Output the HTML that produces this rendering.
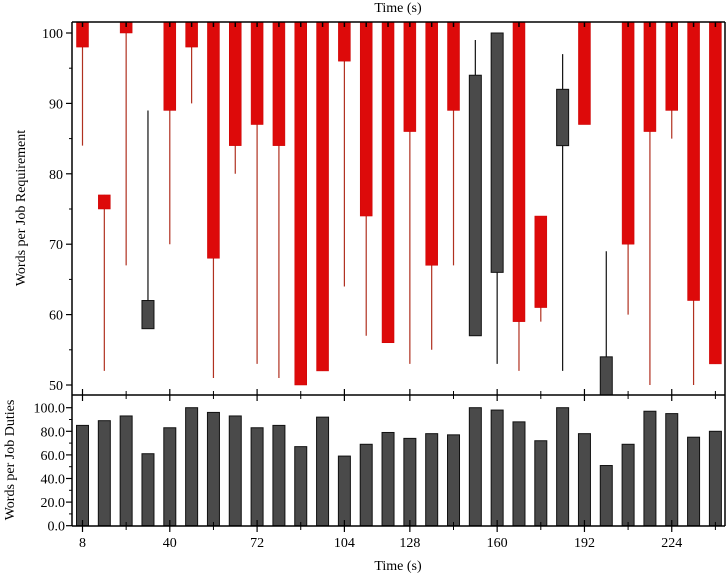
<!DOCTYPE html>
<html><head><meta charset="utf-8">
<style>
html,body{margin:0;padding:0;background:#fff;}
svg{display:block;font-family:"Liberation Serif",serif;}
</style></head>
<body>
<svg id="c" width="726" height="575" viewBox="0 0 726 575" xmlns="http://www.w3.org/2000/svg"></svg>
<script>
const times=[8,16,24,32,40,48,56,64,72,80,88,96,104,112,120,128,136,144,152,160,168,176,184,192,200,208,216,224,232,240];
const openVals=[106,77,106,58,106,106,106,106,106,106,106,106,106,106,106,106,106,106,57,66,106,74,84,106,46,106,106,106,106,106];
const closeVals=[98,75,100,62,89,98,68,84,87,84,50,52,96,74,56,86,67,89,94,100,59,61,92,87,54,70,86,89,62,53];
const highVals=[106,77,106,89,106,106,106,106,106,106,106,106,106,106,106,106,106,106,99,100,106,74,97,106,69,106,106,106,106,106];
const lowVals=[84,52,67,58,70,90,51,80,53,51,50,52,64,57,56,53,55,67,57,53,52,59,52,87,46,60,50,85,50,53];
const dutyVals=[85,89,93,61,83,100,96,93,83,85,67,92,59,69,79,74,78,77,100,98,88,72,100,78,51,69,97,95,75,80];
const xTicks=[8,40,72,104,128,160,192,224];
const xMinor=[24,56,88,144,176,208,240];
const topTicks=[50,60,70,80,90,100];
const botTicks=[0,20,40,60,80,100];

const NS="http://www.w3.org/2000/svg";
const svg=document.getElementById('c');
const L=72,R=725,T1=22,B1=395,B2=526;
const x=v=>82.5+(v-8)*2.728;
const y1=v=>33+(100-v)*7.04;
const y2=v=>525.7-v*1.18;
function el(tag,attrs,parent){const e=document.createElementNS(NS,tag);for(const k in attrs)e.setAttribute(k,attrs[k]);(parent||svg).appendChild(e);return e;}

const defs=el('defs',{});
const cp=el('clipPath',{id:'cp1'},defs);
el('rect',{x:L,y:T1,width:R-L,height:B1-T1},cp);
const gTop=el('g',{'clip-path':'url(#cp1)'});



times.forEach((t,i)=>{
  const o=openVals[i],c=closeVals[i],h=highVals[i],l=lowVals[i];
  const up=c>o;
  const col=up?'#4a4a4a':'#dd0a0a';
  const wc=up?'#111':'#b03020';
  const cx=x(t);
  const w=el('line',{x1:cx,x2:cx,y1:y1(h),y2:y1(l),stroke:wc,'stroke-width':1.2},gTop);
  
  
  const top=Math.max(o,c),bot=Math.min(o,c);
  const b=el('rect',{x:cx-6,y:y1(top),width:12,height:y1(bot)-y1(top),fill:col,stroke:up?'#111':'#c00',"stroke-width":up?1:0.5},gTop);
  
  
  if(!up&&o>101.5){
    const k=el('line',{x1:cx,x2:cx,y1:T1,y2:T1+5,stroke:'#000','stroke-width':1.5},gTop);
    
    
  }
});

dutyVals.forEach((v,i)=>{
  const cx=x(times[i]);
  const b=el('rect',{x:cx-6,y:y2(v),width:12,height:y2(0)-y2(v),fill:'#4a4a4a',stroke:'#111','stroke-width':1});
  
  
});

el('line',{x1:L,x2:R,y1:T1,y2:T1,stroke:'#000','stroke-width':1.5});
el('line',{x1:L,x2:L,y1:T1,y2:B2,stroke:'#000','stroke-width':1.5});
el('line',{x1:R,x2:R,y1:T1,y2:B2,stroke:'#000','stroke-width':1.5});
el('line',{x1:L,x2:R,y1:B1,y2:B1,stroke:'#000','stroke-width':1.5});
el('line',{x1:L,x2:R,y1:B2,y2:B2,stroke:'#000','stroke-width':1.5});

function txt(s,a,name){const e=el('text',a);e.textContent=s;return e;}

topTicks.forEach(v=>{
  el('line',{x1:L-6,x2:L,y1:y1(v),y2:y1(v),stroke:'#000','stroke-width':1.2});
  el('line',{x1:L-3,x2:L,y1:y1(v+5),y2:y1(v+5),stroke:'#000','stroke-width':1});
  txt(String(v),{x:L-9,y:y1(v)+5,'text-anchor':'end','font-size':14},'top-y-tick-label');
});
botTicks.forEach(v=>{
  el('line',{x1:L-6,x2:L,y1:y2(v),y2:y2(v),stroke:'#000','stroke-width':1.2});
  if(v<100)el('line',{x1:L-3,x2:L,y1:y2(v+10),y2:y2(v+10),stroke:'#000','stroke-width':1});
  txt(v.toFixed(1),{x:L-7,y:y2(v)+5,'text-anchor':'end','font-size':14},'bottom-y-tick-label');
});
xTicks.forEach(v=>{
  [B1,B2].forEach(b=>el('line',{x1:x(v),x2:x(v),y1:b-6,y2:b+6,stroke:'#000','stroke-width':1.2}));
  txt(String(v),{x:x(v),y:547,'text-anchor':'middle','font-size':14},'x-tick-label');
});
xMinor.forEach(v=>{
  [B1,B2].forEach(b=>el('line',{x1:x(v),x2:x(v),y1:b-4,y2:b+4,stroke:'#000','stroke-width':1}));
});

txt('Time (s)',{x:398,y:570,'text-anchor':'middle','font-size':14},'x-axis-title');
txt('Time (s)',{x:398,y:12,'text-anchor':'middle','font-size':14},'top-x-axis-title');
txt('Words per Job Requirement',{x:0,y:0,transform:'translate(25,208) rotate(-90)','text-anchor':'middle','font-size':14},'top-y-axis-title');
txt('Words per Job Duties',{x:0,y:0,transform:'translate(14,460) rotate(-90)','text-anchor':'middle','font-size':14},'bottom-y-axis-title');
</script>
</body></html>
